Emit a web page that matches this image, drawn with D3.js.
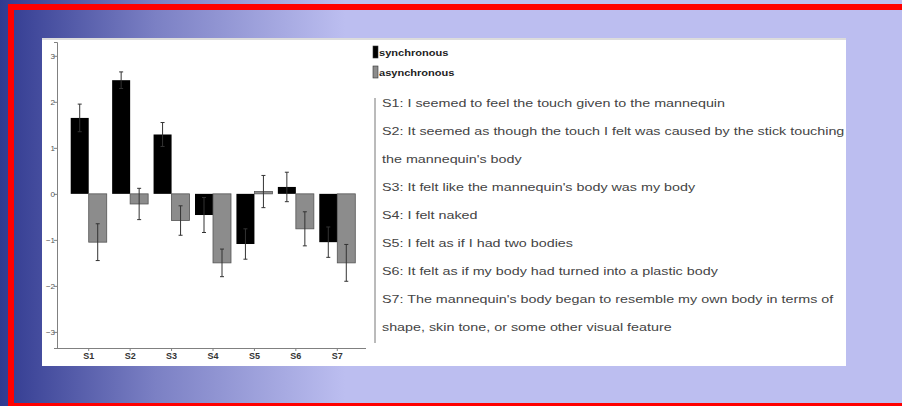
<!DOCTYPE html>
<html>
<head>
<meta charset="utf-8">
<script src="https://cdn.jsdelivr.net/npm/d3@7"></script>
<style>
  html, body { margin: 0; padding: 0; background: #bcbef0; }
  svg { display: block; }
</style>
</head>
<body>
<svg id="chart"></svg>
<script>
// Data
var categories = ["S1", "S2", "S3", "S4", "S5", "S6", "S7"];
var synchronous = [1.65, 2.47, 1.29, -0.46, -1.09, 0.15, -1.05];
var synchronousErr = [0.30, 0.18, 0.26, 0.38, 0.33, 0.32, 0.33];
var asynchronous = [-1.05, -0.22, -0.58, -1.50, 0.05, -0.76, -1.50];
var asynchronousErr = [0.40, 0.34, 0.32, 0.30, 0.35, 0.37, 0.40];
var yTicks = [3, 2, 1, 0, -1, -2, -3];
var seriesNames = ["synchronous", "asynchronous"];
var statements = [
    "S1: I seemed to feel the touch given to the mannequin",
    "S2: It seemed as though the touch I felt was caused by the stick touching",
    "the mannequin's body",
    "S3: It felt like the mannequin's body was my body",
    "S4: I felt naked",
    "S5: I felt as if I had two bodies",
    "S6: It felt as if my body had turned into a plastic body",
    "S7: The mannequin's body began to resemble my own body in terms of",
    "shape, skin tone, or some other visual feature"
];

var W = 902, H = 406;
var svg = d3.select("#chart").attr("width", W).attr("height", H);

// background gradient + red frame
var defs = svg.append("defs");
var grad = defs.append("linearGradient").attr("id", "bg")
    .attr("gradientUnits", "userSpaceOnUse")
    .attr("x1", 0).attr("y1", 0).attr("x2", 345).attr("y2", 0);
grad.append("stop").attr("offset", "0%").attr("stop-color", "#313a90");
grad.append("stop").attr("offset", "45%").attr("stop-color", "#7b80c4");
grad.append("stop").attr("offset", "100%").attr("stop-color", "#bcbef0");

svg.append("rect").attr("width", W).attr("height", H).attr("fill", "url(#bg)");
svg.append("rect")
    .attr("x", 11).attr("y", 7).attr("width", 900).attr("height", 399)
    .attr("fill", "none").attr("stroke", "#ff0000").attr("stroke-width", 6);

// white picture panel
svg.append("rect").attr("x", 42).attr("y", 38).attr("width", 804).attr("height", 328)
    .attr("fill", "#ffffff");
svg.append("line").attr("x1", 42).attr("x2", 846).attr("y1", 39).attr("y2", 39)
    .attr("stroke", "#dcdcdc").attr("stroke-width", 2);

// scales
var x = d3.scaleBand().domain(categories).range([68, 358]).padding(0);
var y = d3.scaleLinear().domain([-3.35, 3.3]).range([348, 42]);
var barW = 18;

var plot = svg.append("g");

// axes
var yAxis = plot.append("g")
    .attr("transform", "translate(57,0)")
    .call(d3.axisLeft(y).tickValues(yTicks).tickSize(3).tickFormat(d3.format("d")));
var xAxis = plot.append("g")
    .attr("transform", "translate(0,348)")
    .call(d3.axisBottom(x).tickSize(3).tickSizeOuter(0));
xAxis.select(".domain").attr("d", "M57,0.5H366");
plot.selectAll(".domain").attr("stroke", "#808080");
plot.selectAll(".tick line").attr("stroke", "#808080");
yAxis.selectAll("text").attr("font-family", "Liberation Sans, Arial, sans-serif")
    .attr("font-size", 8).attr("fill", "#555").attr("x", -2);
xAxis.selectAll("text").attr("font-family", "Liberation Sans, Arial, sans-serif")
    .attr("font-size", 9).attr("font-weight", "bold").attr("fill", "#333").attr("dy", "0.5em");

// bars
var colors = ["#000000", "#8c8c8c"];
var series = [
    { vals: synchronous, errs: synchronousErr, off: -barW },
    { vals: asynchronous, errs: asynchronousErr, off: 0 }
];
series.forEach(function(s, si){
    var g = plot.append("g");
    g.selectAll("rect")
        .data(categories)
        .enter().append("rect")
            .attr("x", function(d){ return x(d) + x.bandwidth()/2 + s.off; })
            .attr("y", function(d, i){ return y(Math.max(0, s.vals[i])); })
            .attr("width", barW)
            .attr("height", function(d, i){ return Math.abs(y(s.vals[i]) - y(0)); })
            .attr("fill", colors[si])
            .attr("stroke", si == 1 ? "#555" : "none")
            .attr("stroke-width", 0.8);
    // error bars
    var eb = g.selectAll("g.err")
        .data(categories)
        .enter().append("g").attr("class", "err");
    function cx(d){ return x(d) + x.bandwidth()/2 + s.off + barW/2; }
    eb.append("line")
        .attr("x1", cx).attr("x2", cx)
        .attr("y1", function(d, i){ return y(s.vals[i] + s.errs[i]); })
        .attr("y2", function(d, i){ return y(s.vals[i] - s.errs[i]); })
        .attr("stroke", "#333").attr("stroke-width", 1);
    [1, -1].forEach(function(sign){
        eb.append("line")
            .attr("x1", function(d){ return cx(d) - 2; })
            .attr("x2", function(d){ return cx(d) + 2; })
            .attr("y1", function(d, i){ return y(s.vals[i] + sign*s.errs[i]); })
            .attr("y2", function(d, i){ return y(s.vals[i] + sign*s.errs[i]); })
            .attr("stroke", "#333").attr("stroke-width", 1);
    });
});

// legend
var legend = svg.append("g").attr("transform", "translate(373,46)");
seriesNames.forEach(function(name, i){
    var row = legend.append("g").attr("transform", "translate(0," + (i*20) + ")");
    row.append("rect").attr("width", 5).attr("height", 12)
        .attr("fill", colors[i]).attr("stroke", "#333").attr("stroke-width", 0.6);
    row.append("text").attr("x", 6/1.3).attr("y", 10)
        .attr("transform", "scale(1.3,1)")
        .attr("font-family", "Liberation Sans, Arial, sans-serif")
        .attr("font-size", 8.5).attr("font-weight", "bold").attr("fill", "#222")
        .text(name);
});

// statements list
svg.append("line").attr("x1", 375).attr("x2", 375).attr("y1", 98).attr("y2", 343)
    .attr("stroke", "#777").attr("stroke-width", 1);
var stmt = svg.append("g").attr("transform", "translate(382,0)");
var texts = stmt.selectAll("text")
    .data(statements)
    .enter().append("text")
        .attr("x", 0)
        .attr("y", function(d, i){ return 107 + i*28; })
        .attr("font-family", "Liberation Sans, Arial, sans-serif")
        .attr("font-size", 10.5)
        .attr("fill", "#444")
        .text(function(d){ return d; });
// stretch horizontally so the long S2 line reaches the panel edge
var w2 = texts.nodes()[1].getComputedTextLength();
texts.attr("transform", "scale(" + (463 / w2) + ",1)");
</script>
</body>
</html>
